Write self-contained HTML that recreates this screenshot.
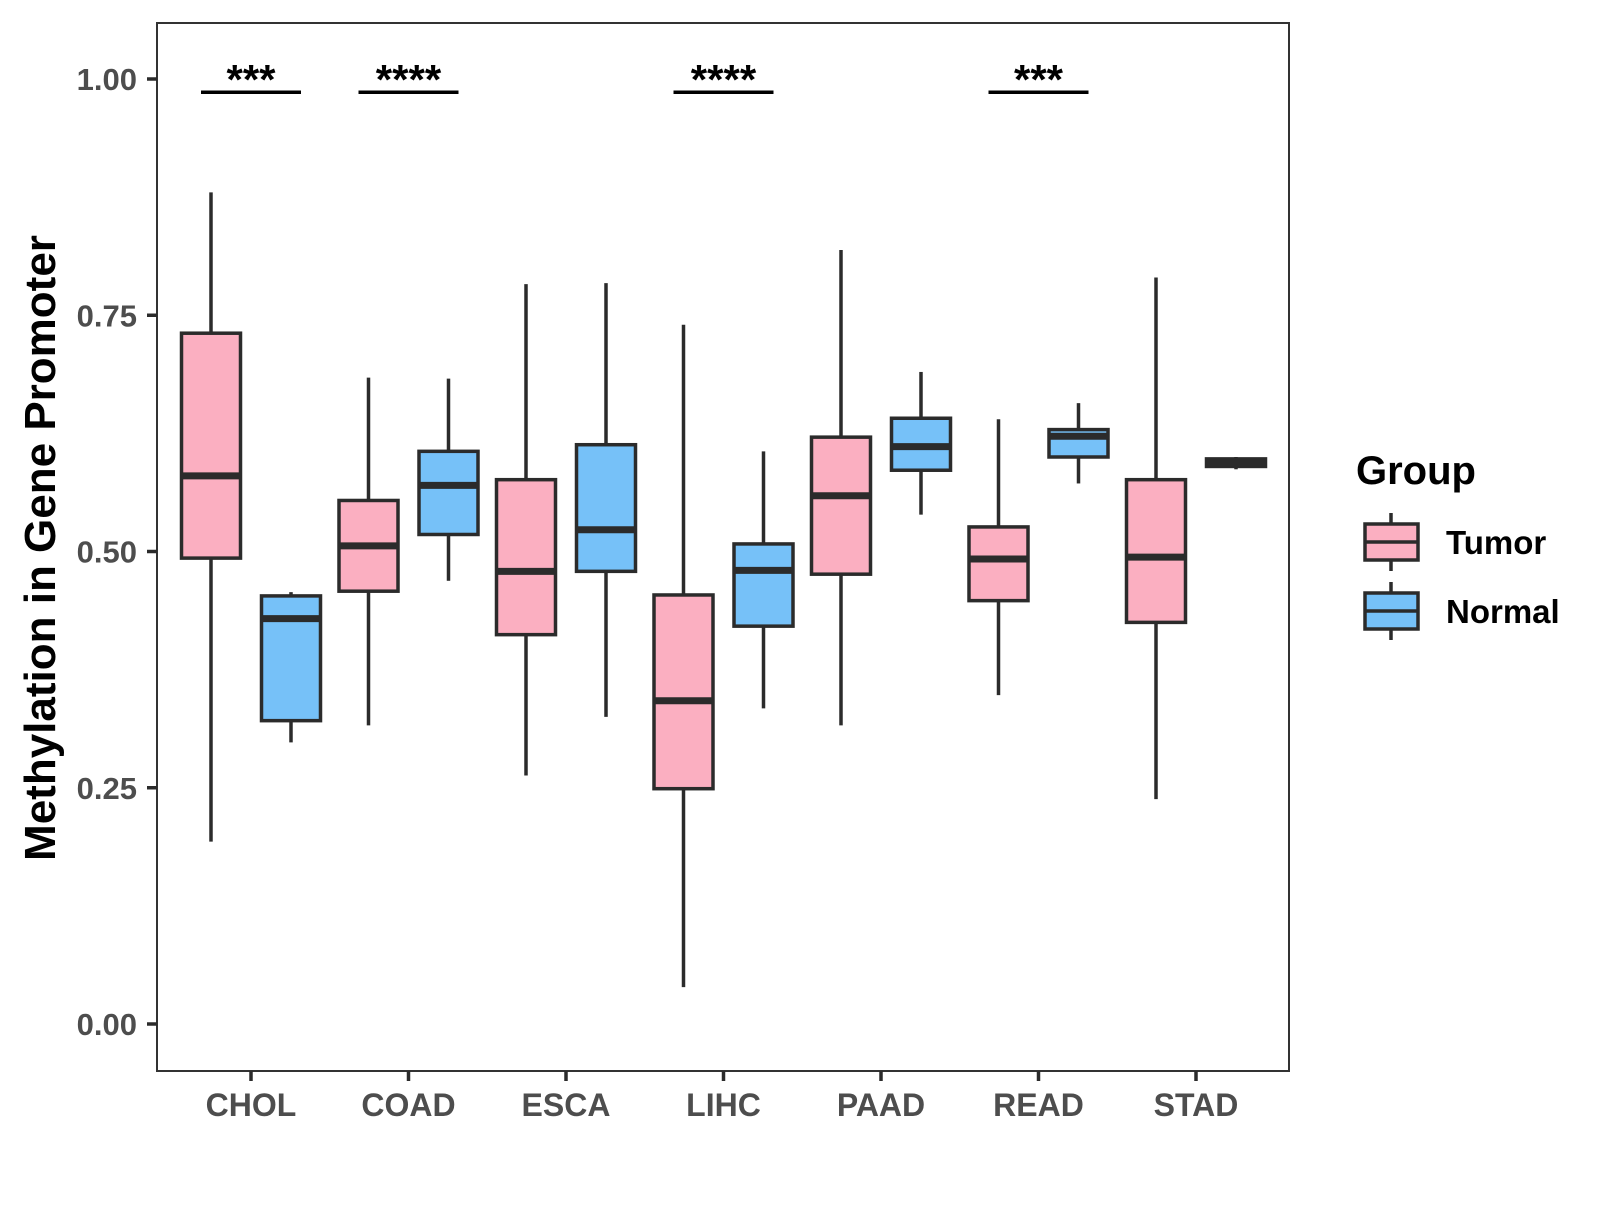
<!DOCTYPE html>
<html><head><meta charset="utf-8"><style>
body{margin:0;background:#fff}
svg text{font-family:"Liberation Sans",Arial,sans-serif;font-weight:bold}
</style></head><body>
<svg id="chart" width="1600" height="1200" viewBox="0 0 1600 1200" xmlns="http://www.w3.org/2000/svg">
<rect width="1600" height="1200" fill="#fff"/>
<g id="plot"></g>
</svg>
<script>
const categories=["CHOL","COAD","ESCA","LIHC","PAAD","READ","STAD"];
const tumorStats=[[0.193,0.493,0.580,0.731,0.880],[0.316,0.458,0.506,0.554,0.684],[0.263,0.412,0.479,0.576,0.783],[0.039,0.249,0.342,0.454,0.740],[0.316,0.476,0.559,0.621,0.819],[0.348,0.448,0.492,0.526,0.640],[0.238,0.425,0.494,0.576,0.790]];
const normalStats=[[0.298,0.321,0.429,0.453,0.457],[0.469,0.518,0.570,0.606,0.683],[0.325,0.479,0.523,0.613,0.784],[0.334,0.421,0.480,0.508,0.606],[0.539,0.586,0.611,0.641,0.690],[0.572,0.600,0.622,0.629,0.657],[0.587,0.590,0.594,0.598,0.600]];
const yTicks=[0,0.25,0.5,0.75,1.0];
const yTickLabels=["0.00","0.25","0.50","0.75","1.00"];
const sigCategories=["CHOL","COAD","LIHC","READ"];
const sigLabels=["***","****","****","***"];
const sigLevel=0.986;

const NS="http://www.w3.org/2000/svg";
const g=document.getElementById('plot');
const L=157,R=1289,T=23,B=1071;
const y=v=>1024-945*v;
const x=i=>251+157.5*i;
const off=40,bw=59;
function mk(tag,attrs,parent){const e=document.createElementNS(NS,tag);for(const k in attrs)e.setAttribute(k,attrs[k]);(parent||g).appendChild(e);return e;}
const stroke="#2b2b2b";
const panel=mk('rect',{x:L,y:T,width:R-L,height:B-T,fill:'none',stroke:'#333','stroke-width':2});


yTicks.forEach((v,i)=>{
  const t=mk('line',{x1:L-10,x2:L,y1:y(v),y2:y(v),stroke:stroke,'stroke-width':3.5});
  
  
  const tx=mk('text',{x:L-20,y:y(v)+11,'text-anchor':'end','font-size':31,fill:'#4d4d4d'});
  tx.textContent=yTickLabels[i];
  
  
});
categories.forEach((c,i)=>{
  const t=mk('line',{x1:x(i),x2:x(i),y1:B,y2:B+10,stroke:stroke,'stroke-width':3.5});
  
  
  const tx=mk('text',{x:x(i),y:B+45,'text-anchor':'middle','font-size':32,fill:'#4d4d4d'});
  tx.textContent=c;
  
  
});
function box(cx,s,fill,name){
  const grp=mk('g',{});
  
  
  mk('line',{x1:cx,x2:cx,y1:y(s[0]),y2:y(s[1]),stroke:stroke,'stroke-width':3.5},grp);
  mk('line',{x1:cx,x2:cx,y1:y(s[3]),y2:y(s[4]),stroke:stroke,'stroke-width':3.5},grp);
  mk('rect',{x:cx-bw/2,y:y(s[3]),width:bw,height:Math.max(y(s[1])-y(s[3]),1),fill:fill,stroke:stroke,'stroke-width':3.5},grp);
  mk('line',{x1:cx-bw/2,x2:cx+bw/2,y1:y(s[2]),y2:y(s[2]),stroke:stroke,'stroke-width':7},grp);
}
categories.forEach((c,i)=>{
  box(x(i)-off,tumorStats[i],'#FBAFC1','box-tumor-'+c.toLowerCase());
  box(x(i)+off,normalStats[i],'#76C1F8','box-normal-'+c.toLowerCase());
});
sigCategories.forEach((c,k)=>{
  const i=categories.indexOf(c);
  const ln=mk('line',{x1:x(i)-50,x2:x(i)+50,y1:y(sigLevel),y2:y(sigLevel),stroke:'#000','stroke-width':3.5});
  
  
  const tx=mk('text',{x:x(i),y:y(sigLevel)+2,'text-anchor':'middle','font-size':42,fill:'#000'});
  tx.textContent=sigLabels[k];
  
  
});
const yt=mk('text',{x:0,y:0,transform:'translate(55,548) rotate(-90)','text-anchor':'middle','font-size':44,fill:'#000'});
yt.textContent='Methylation in Gene Promoter';


const lt=mk('text',{x:1356,y:484,'font-size':40,fill:'#000'});
lt.textContent='Group';


[['Tumor','#FBAFC1',542],['Normal','#76C1F8',611]].forEach(([n,f,cy])=>{
  const e=mk('g',{});
  
  
  mk('line',{x1:1391,x2:1391,y1:cy-29,y2:cy+29,stroke:stroke,'stroke-width':3.5},e);
  mk('rect',{x:1365,y:cy-18,width:53,height:36,fill:f,stroke:stroke,'stroke-width':3.5},e);
  mk('line',{x1:1365,x2:1418,y1:cy,y2:cy,stroke:stroke,'stroke-width':3.5},e);
  const t=mk('text',{x:1446,y:cy+12,'font-size':33,fill:'#000'},e);
  t.textContent=n;
});
</script>
</body></html>
